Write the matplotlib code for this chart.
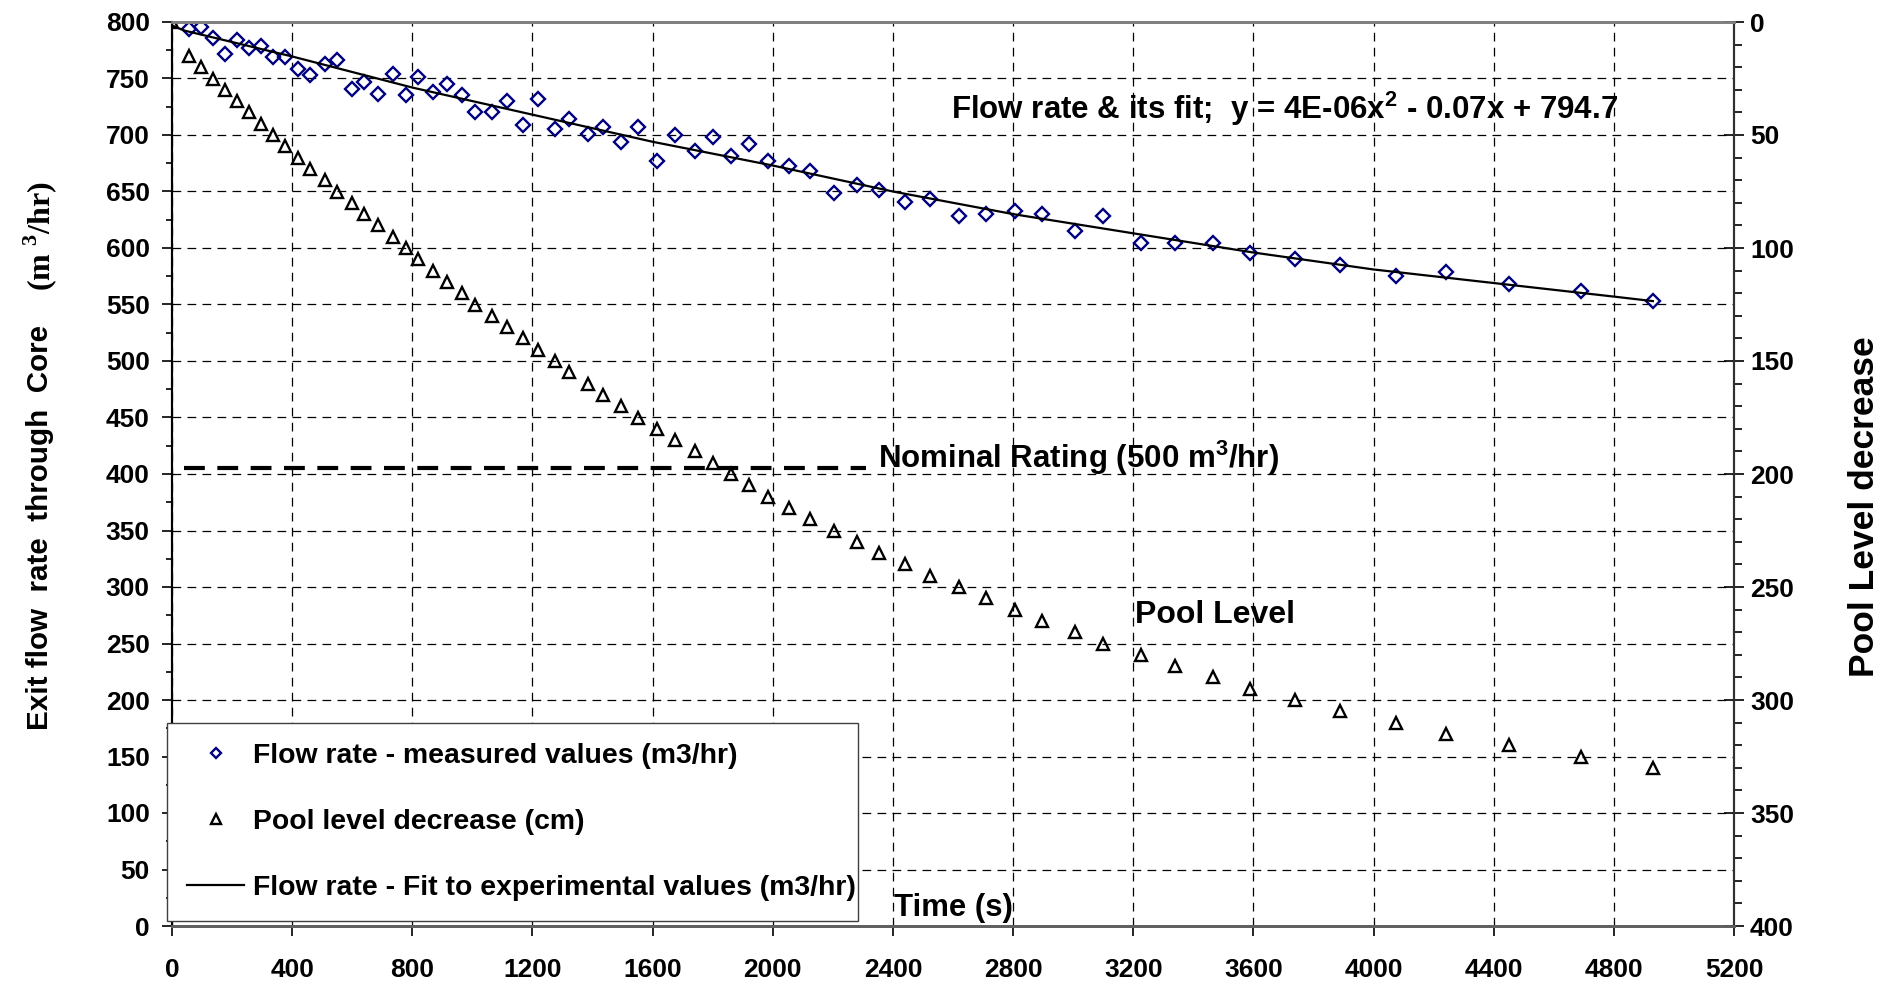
import matplotlib.pyplot as plt
from matplotlib.ticker import MultipleLocator

# time of each reading (s)
time_s = [0, 55, 95, 135, 175, 215, 255, 295, 335, 375,
          420, 460, 510, 550, 600, 640, 685, 735, 780, 820,
          870, 915, 965, 1010, 1065, 1115, 1170, 1220, 1275, 1320,
          1385, 1435, 1495, 1550, 1615, 1675, 1740, 1800, 1860, 1920,
          1985, 2055, 2125, 2205, 2280, 2355, 2440, 2525, 2620, 2710,
          2805, 2895, 3005, 3100, 3225, 3340, 3465, 3590, 3740, 3890,
          4075, 4240, 4450, 4690, 4930]

# measured flow rate (m3/hr), from the second reading on
flow_measured = [794, 796, 786, 772, 784, 777, 779, 769, 769,
                 758, 753, 763, 766, 741, 747, 736, 754, 735, 751,
                 738, 745, 735, 720, 720, 730, 709, 732, 705, 714,
                 701, 707, 694, 707, 677, 700, 686, 698, 681, 692,
                 677, 673, 668, 649, 656, 651, 641, 643, 628, 630,
                 633, 630, 615, 628, 604, 604, 604, 596, 590, 585,
                 575, 579, 568, 562, 553]

# pool level decrease (cm)
pool_level = [0, 15, 20, 25, 30, 35, 40, 45, 50, 55,
              60, 65, 70, 75, 80, 85, 90, 95, 100, 105,
              110, 115, 120, 125, 130, 135, 140, 145, 150, 155,
              160, 165, 170, 175, 180, 185, 190, 195, 200, 205,
              210, 215, 220, 225, 230, 235, 240, 245, 250, 255,
              260, 265, 270, 275, 280, 285, 290, 295, 300, 305,
              310, 315, 320, 325, 330]

# fitted flow rate
fit_time = [0, 40, 400, 800, 1200, 1600, 2000, 2400, 2800, 3200, 3600, 4000, 4400, 4800, 4930]
fit_flow = [797, 792.5, 769.5, 742, 718, 694, 673, 650, 630, 613, 596, 581, 569, 557, 553]

# nominal rating marker line
nominal_x = [40, 2310]
nominal_y = [405, 405]

sans = ['Liberation Sans', 'DejaVu Sans']
plt.rcParams['mathtext.fontset'] = 'custom'
plt.rcParams['mathtext.rm'] = 'Liberation Serif:bold'
plt.rcParams['mathtext.bf'] = 'Liberation Serif:bold'
plt.rcParams['mathtext.sf'] = 'Liberation Sans:bold'

fig = plt.figure(figsize=(18.9, 9.89), dpi=100)
ax = fig.add_axes([172 / 1890, 1 - 926 / 989, (1734 - 172) / 1890, (926 - 22) / 989])
ax2 = ax.twinx()

grid_style = dict(color='black', lw=0.9, ls=(0, (7, 5)))
ax.grid(True, which='major', **grid_style)
ax.set_axisbelow(True)

h1, = ax.plot(time_s[1:], flow_measured, ls='none', marker='D', ms=6.8, mfc='none',
              mec='#000080', mew=1.7, label='Flow rate - measured values (m3/hr)')
h3, = ax.plot(fit_time, fit_flow, color='black', lw=1.6,
              label='Flow rate - Fit to experimental values (m3/hr)')
ax.plot(nominal_x, nominal_y, color='black', lw=3.0, ls=(0, (5, 3)))
h2, = ax2.plot(time_s, pool_level, ls='none', marker='^', ms=8.8, mfc='none',
               mec='black', mew=1.7, label='Pool level decrease (cm)')

ax.set_xlim(0, 5200)
ax.set_ylim(0, 800)
ax2.set_ylim(400, 0)

ax.xaxis.set_major_locator(MultipleLocator(400))
ax.yaxis.set_major_locator(MultipleLocator(50))
ax.yaxis.set_minor_locator(MultipleLocator(25))
ax2.yaxis.set_major_locator(MultipleLocator(50))
ax2.yaxis.set_minor_locator(MultipleLocator(10))

ax.tick_params(axis='x', direction='out', length=7, width=1.2, pad=16)
ax.tick_params(axis='y', which='major', direction='out', length=7, width=1.2, pad=9)
ax.tick_params(axis='y', which='minor', direction='out', length=4, width=1.2)
ax2.tick_params(axis='y', which='major', direction='inout', length=15, width=1.2, pad=4)
ax2.tick_params(axis='y', which='minor', direction='out', length=6, width=1.2)

for lab in ax.get_xticklabels() + ax.get_yticklabels() + ax2.get_yticklabels():
    lab.set_fontfamily(sans)
    lab.set_fontweight('bold')
    lab.set_fontsize(19)

for a in (ax, ax2):
    a.spines['top'].set_color('#808080')
    a.spines['bottom'].set_color('#606060')
    a.spines['top'].set_linewidth(2)
    a.spines['bottom'].set_linewidth(2)
    a.spines['left'].set_linewidth(1.5)
    a.spines['right'].set_linewidth(1.5)
    a.spines['right'].set_color('#303030')

ax.text(2595, 723, r'Flow rate & its fit;  y = 4E-06x$^{\mathsf{2}}$ - 0.07x + 794.7',
        fontsize=22.5, fontweight='bold', family=sans, va='center', ha='left')
ax.text(2350, 414, r'Nominal Rating (500 m$^{\mathsf{3}}$/hr)',
        fontsize=22.5, fontweight='bold', family=sans, va='center', ha='left')
ax.text(3207, 275, 'Pool Level', fontsize=23, fontweight='bold', family=sans,
        va='center', ha='left')
ax.text(2405, 16, 'Time (s)', fontsize=22.4, fontweight='bold', family=sans,
        va='center', ha='left')

fig.text(40 / 1890, 1 - 527 / 989, 'Exit flow  rate  through  Core', rotation=90,
         fontsize=21.3, fontweight='bold', family=sans, ha='center', va='center')
fig.text(40 / 1890, 1 - 236 / 989, r'(m $^{3}$/hr)', rotation=90,
         fontsize=23, fontweight='bold', family=['Liberation Serif', 'DejaVu Serif'],
         ha='center', va='center')
fig.text(1865 / 1890, 1 - 507 / 989, 'Pool Level decrease', rotation=90,
         fontsize=25.5, fontweight='bold', family=sans, ha='center', va='center')

leg = fig.legend(handles=[h1, h2, h3], loc='lower left', mode='expand',
                 bbox_to_anchor=(167 / 1890, 1 - 921 / 989, (858 - 167) / 1890, 0.01),
                 bbox_transform=fig.transFigure,
                 borderaxespad=0, fancybox=False, framealpha=1, edgecolor='#404040',
                 borderpad=0.72, labelspacing=1.4, handlelength=2.0, handletextpad=0.3,
                 markerscale=0.75, prop={'family': sans, 'weight': 'bold', 'size': 20.4})
leg.get_frame().set_linewidth(1.0)

fig.savefig('out.png', dpi=100)
